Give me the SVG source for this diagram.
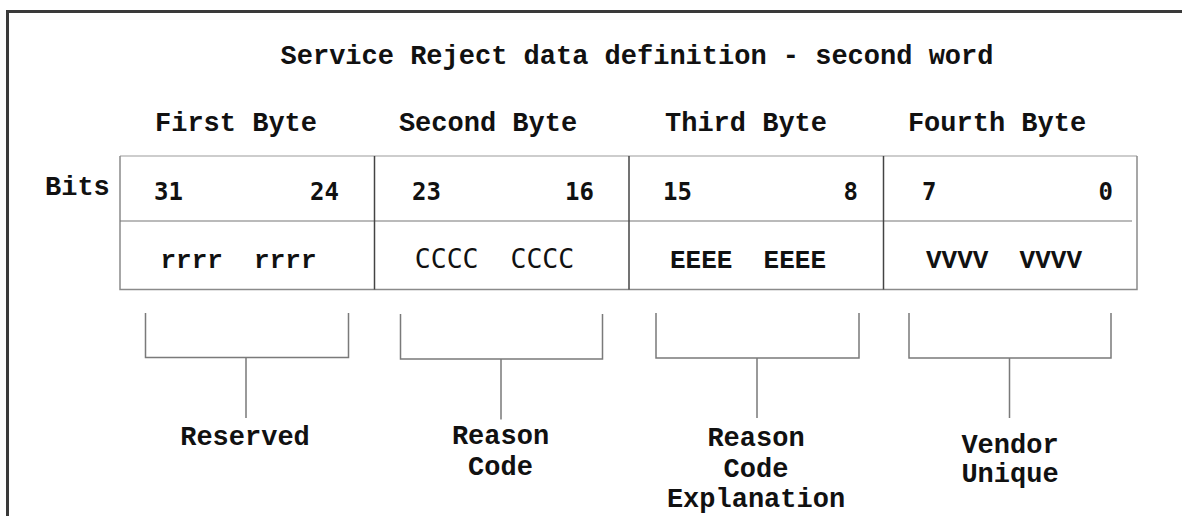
<svg xmlns="http://www.w3.org/2000/svg" width="1182" height="516" viewBox="0 0 1182 516">
<style>
.cour{font-family:"Liberation Mono","DejaVu Sans Mono",monospace;font-weight:bold;fill:#111}
.t27{font-size:27px}
.t26{font-size:26px}
.sans{font-family:"DejaVu Sans Mono","Liberation Mono",monospace;font-size:24px;fill:#111}
.cc{font-size:26.5px}
.num{font-weight:bold}
.pre{white-space:pre}
.mid{text-anchor:middle}
.end{text-anchor:end}
.br{fill:none;stroke:#7a7a7a;stroke-width:1.5}
.outer{fill:none;stroke:#8a8a8a;stroke-width:1.5}
.div{stroke:#444;stroke-width:1.5}
</style>
<rect width="1182" height="516" fill="#fff"/>
<path d="M7.5 516 V11.5 H1182" fill="none" stroke="#3a3a3a" stroke-width="3"/>
<g id="title">
<text class="cour t27 mid" x="637" y="64">Service Reject data definition - second word</text>
</g>
<g id="headers">
<text class="cour t27 mid" x="236" y="131">First Byte</text>
<text class="cour t27 mid" x="488" y="131">Second Byte</text>
<text class="cour t27 mid" x="746" y="131">Third Byte</text>
<text class="cour t27 mid" x="997" y="131">Fourth Byte</text>
<text class="cour t27" x="45" y="195">Bits</text>
</g>
<g id="table">
<line x1="120" y1="156" x2="1137" y2="156" stroke="#bdbdbd" stroke-width="1.5"/>
<path class="outer" d="M120 156 V289.5 H1137 V156"/>
<line x1="120" y1="221" x2="1132" y2="221" stroke="#777" stroke-width="1.2"/>
<line class="div" x1="374.5" y1="156" x2="374.5" y2="289.5"/>
<line class="div" x1="629" y1="156" x2="629" y2="289.5"/>
<line class="div" x1="883.5" y1="156" x2="883.5" y2="289.5"/>
</g>
<g id="byte1">
<text class="sans num" x="154" y="200">31</text>
<text class="sans num end" x="339" y="200">24</text>
<text class="cour t26 mid pre" x="238.5" y="268" xml:space="preserve">rrrr  rrrr</text>
</g>
<g id="byte2">
<text class="sans num" x="412" y="200">23</text>
<text class="sans num end" x="594" y="200">16</text>
<text class="sans cc mid pre" x="494.5" y="268" xml:space="preserve">CCCC  CCCC</text>
</g>
<g id="byte3">
<text class="sans num" x="663" y="200">15</text>
<text class="sans num end" x="858" y="200">8</text>
<text class="cour t26 mid pre" x="748" y="268" xml:space="preserve">EEEE  EEEE</text>
</g>
<g id="byte4">
<text class="sans num" x="922" y="200">7</text>
<text class="sans num end" x="1113" y="200">0</text>
<text class="cour t26 mid pre" x="1004" y="268" xml:space="preserve">VVVV  VVVV</text>
</g>
<g id="connectors">
<path class="br" d="M145.5 313 V357.5 H348.5 V313 M246 357.5 V418"/>
<path class="br" d="M400.5 314 V359 H602.5 V314 M501 359 V419.5"/>
<path class="br" d="M656 313 V358 H859 V313 M757 358 V418"/>
<path class="br" d="M909 313 V358 H1111 V313 M1009.5 358 V418"/>
</g>
<g id="label-reserved">
<text class="cour t27 mid" x="245" y="445">Reserved</text>
</g>
<g id="label-reason">
<text class="cour t27 mid" x="500.5" y="444">Reason</text>
<text class="cour t27 mid" x="500.5" y="475">Code</text>
</g>
<g id="label-explanation">
<text class="cour t27 mid" x="756" y="446">Reason</text>
<text class="cour t27 mid" x="756" y="477">Code</text>
<text class="cour t27 mid" x="756" y="507">Explanation</text>
</g>
<g id="label-vendor">
<text class="cour t27 mid" x="1010" y="453">Vendor</text>
<text class="cour t27 mid" x="1010" y="482">Unique</text>
</g>
</svg>
